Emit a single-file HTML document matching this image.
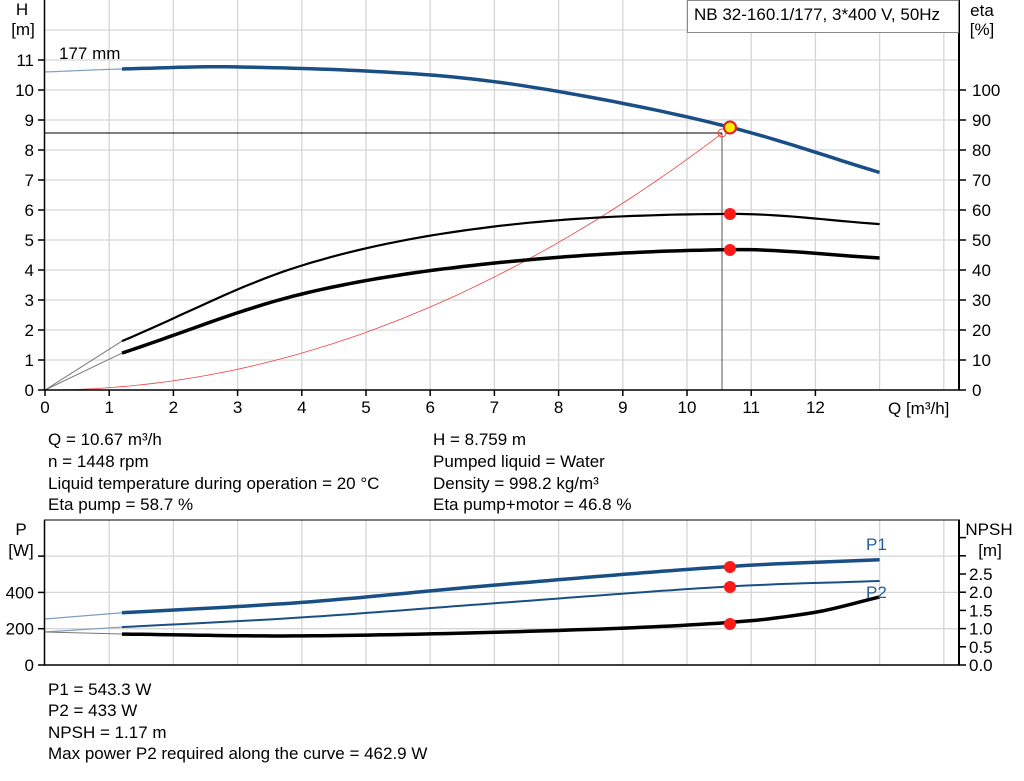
<!DOCTYPE html>
<html><head><meta charset="utf-8"><style>
body{margin:0;background:#fff;width:1024px;height:781px;overflow:hidden;font-family:"Liberation Sans",Arial,sans-serif;}
svg{position:absolute;left:0;top:0}
text{font-family:"Liberation Sans",Arial,sans-serif;font-size:17px;fill:#000}
</style></head><body>
<svg id="s" width="1024" height="781" xmlns="http://www.w3.org/2000/svg">
<g id="grid" stroke="#d6d6d6" stroke-width="1.3"></g>
<g id="curves" fill="none"></g>
<line x1="44.5" y1="0" x2="44.5" y2="390" stroke="#000" stroke-width="1.5"/>
<line x1="44" y1="390" x2="960" y2="390" stroke="#000" stroke-width="1.5"/>
<line x1="959" y1="0" x2="959" y2="390" stroke="#000" stroke-width="2"/>
<line x1="44.5" y1="520" x2="44.5" y2="665" stroke="#000" stroke-width="1.5"/>
<line x1="44" y1="665" x2="960" y2="665" stroke="#000" stroke-width="1.5"/>
<line x1="44" y1="520" x2="960" y2="520" stroke="#000" stroke-width="1"/>
<line x1="959" y1="520" x2="959" y2="665" stroke="#000" stroke-width="2"/>
<g id="ticks" stroke="#000" stroke-width="1.5"></g>
<g id="labels"></g>
<rect x="687.5" y="0.5" width="271" height="32" fill="#fff" stroke="#888" stroke-width="1"/>
<text x="694" y="20">NB 32-160.1/177, 3*400 V, 50Hz</text>
<text x="22" y="15" text-anchor="middle">H</text>
<text x="23" y="35" text-anchor="middle">[m]</text>
<text x="982" y="16" text-anchor="middle">eta</text>
<text x="982" y="35" text-anchor="middle">[%]</text>
<text x="59" y="59">177 mm</text>
<text x="888" y="414">Q [m³/h]</text>
<text x="21" y="535" text-anchor="middle">P</text>
<text x="21" y="556" text-anchor="middle">[W]</text>
<text x="989" y="535" text-anchor="middle">NPSH</text>
<text x="990" y="556" text-anchor="middle">[m]</text>
<text x="866" y="550" style="fill:#1f5f96">P1</text>
<text x="866" y="598" style="fill:#1f5f96">P2</text>
<text x="48" y="445">Q = 10.67 m³/h</text>
<text x="48" y="467">n = 1448 rpm</text>
<text x="48" y="489">Liquid temperature during operation = 20 °C</text>
<text x="48" y="510">Eta pump = 58.7 %</text>
<text x="433" y="445">H = 8.759 m</text>
<text x="433" y="467">Pumped liquid = Water</text>
<text x="433" y="489">Density = 998.2 kg/m³</text>
<text x="433" y="510">Eta pump+motor = 46.8 %</text>
<text x="48" y="695">P1 = 543.3 W</text>
<text x="48" y="716">P2 = 433 W</text>
<text x="48" y="738">NPSH = 1.17 m</text>
<text x="48" y="759">Max power P2 required along the curve = 462.9 W</text>
</svg>
<script>
var NS="http://www.w3.org/2000/svg";
function el(p,t,a){var e=document.createElementNS(NS,t);for(var k in a)e.setAttribute(k,a[k]);document.getElementById(p).appendChild(e);return e;}
function X(q){return 45+q*64.2;}
for(var i=1;i<=14;i++){var x=X(i);if(x<958){el("grid","line",{x1:x,y1:0,x2:x,y2:390});el("grid","line",{x1:x,y1:520,x2:x,y2:665});}}
for(var h=1;h<=13;h++){var y=390-h*30;if(y>0)el("grid","line",{x1:45,y1:y,x2:959,y2:y});}
[628.7,592.4,556.1].forEach(function(y){el("grid","line",{x1:45,y1:y,x2:959,y2:y});});
for(var i=0;i<=12;i++){el("ticks","line",{x1:X(i),y1:390,x2:X(i),y2:396});var t=el("labels","text",{x:X(i),y:413,"text-anchor":"middle"});t.textContent=i;}
for(var h=0;h<=11;h++){var y=390-h*30;el("ticks","line",{x1:38,y1:y,x2:45,y2:y});var t=el("labels","text",{x:34,y:y+6,"text-anchor":"end"});t.textContent=h;}
for(var e=0;e<=100;e+=10){var y=390-e*3;el("ticks","line",{x1:959,y1:y,x2:966,y2:y});var t=el("labels","text",{x:972,y:y+6});t.textContent=e;}
[0,200,400,600].forEach(function(p){var y=665-p*0.1815;el("ticks","line",{x1:38,y1:y,x2:45,y2:y});if(p<600){var t=el("labels","text",{x:34,y:y+6,"text-anchor":"end"});t.textContent=p;}});
for(var n=0;n<=7;n++){var y=665-n*0.5*36.4;el("ticks","line",{x1:959,y1:y,x2:966,y2:y});if(n<=5){var t=el("labels","text",{x:969,y:y+6});t.textContent=(n*0.5).toFixed(1);}}
function cr(pts,q){for(var i=0;i<pts.length-1;i++){if(q<=pts[i+1][0]||i==pts.length-2){var p0=pts[Math.max(i-1,0)],p1=pts[i],p2=pts[i+1],p3=pts[Math.min(i+2,pts.length-1)];var t=(q-p1[0])/(p2[0]-p1[0]);var m1=(p2[1]-p0[1])/(p2[0]-p0[0])*(p2[0]-p1[0]);var m2=(p3[1]-p1[1])/(p3[0]-p1[0])*(p2[0]-p1[0]);var t2=t*t,t3=t2*t;return (2*t3-3*t2+1)*p1[1]+(t3-2*t2+t)*m1+(-2*t3+3*t2)*p2[1]+(t3-t2)*m2;}}}
function path(f,a,b){var d="";for(var q=a;q<=b+1e-9;q+=(b-a)/80){d+=(d?"L":"M")+X(q).toFixed(1)+","+f(q).toFixed(1);}return d;}
function draw(f,a,b,c,w){el("curves","path",{d:path(f,a,b),stroke:c,"stroke-width":w,"stroke-linejoin":"round"});}
function seg(x1,y1,x2,y2,c,w){el("curves","line",{x1:x1,y1:y1,x2:x2,y2:y2,stroke:c,"stroke-width":w});}
var Hp=[[0,10.6],[1.2,10.7],[3,10.77],[6,10.5],[8,9.95],[10.67,8.76],[13,7.25]];
var E1=[[1.2,16.3],[4,41.5],[7,54.5],[10.67,58.7],[13,55.3]];
var E2=[[1.2,12.3],[4,32],[7,42.3],[10.67,46.8],[13,44]];
var P1=[[1.2,288],[4,345],[7,440],[10.67,543],[13,580]];
var P2=[[1.2,209],[4,262],[7,340],[10.67,433],[13,463]];
var NP=[[1.2,0.85],[4,0.8],[8,0.95],[10.67,1.17],[12,1.45],[13,1.87]];
var fH=function(q){return 390-cr(Hp,q)*30;},f1=function(q){return 390-cr(E1,q)*3;},f2=function(q){return 390-cr(E2,q)*3;};
var g1=function(q){return 665-cr(P1,q)*0.1815;},g2=function(q){return 665-cr(P2,q)*0.1815;},gn=function(q){return 665-cr(NP,q)*36.4;};
draw(function(q){return 390-8.56*Math.pow(q/10.55,2)*30;},0,10.55,"#f04040",0.8);
seg(45,133,722,133,"#000",1);seg(722,133,722,390,"#555",1);
draw(fH,0,1.2,"#7f9fbf",1.2);draw(fH,1.2,13,"#1a4f86",3.5);
seg(45,390,X(1.2),f1(1.2),"#777",1);draw(f1,1.2,13,"#000",2.2);
seg(45,390,X(1.2),f2(1.2),"#777",1);draw(f2,1.2,13,"#000",3.5);
seg(45,619,X(1.2),g1(1.2),"#7f9fbf",1.2);draw(g1,1.2,13,"#1a4f86",3.5);
seg(45,632,X(1.2),g2(1.2),"#7f9fbf",1.2);draw(g2,1.2,13,"#1a4f86",2);
seg(45,632,X(1.2),gn(1.2),"#777",1);draw(gn,1.2,13,"#000",3.5);
el("curves","circle",{cx:722,cy:133,r:4,stroke:"#f04040","stroke-width":1,fill:"none"});
el("curves","circle",{cx:730,cy:127.5,r:6,fill:"#ffee00",stroke:"#e02020","stroke-width":2});
[[730,214],[730,250],[730,567],[730,587],[730,624]].forEach(function(p){el("curves","circle",{cx:p[0],cy:p[1],r:6,fill:"#ff1a1a"});});
</script>
</body></html>
